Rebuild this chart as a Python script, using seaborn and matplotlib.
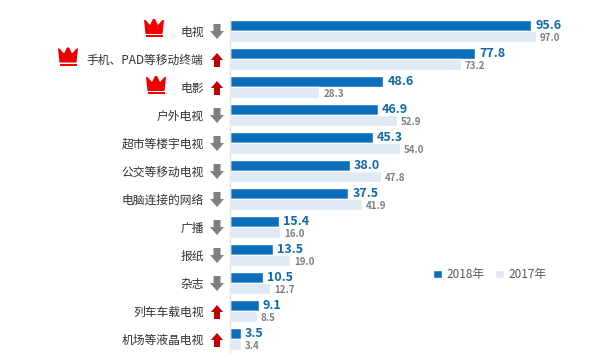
import pandas as pd
import matplotlib
matplotlib.use("Agg")
import matplotlib.pyplot as plt
from matplotlib.patches import Polygon
import seaborn as sns

# Data
categories = ["电视", "手机、PAD等移动终端", "电影", "户外电视", "超市等楼宇电视", "公交等移动电视",
              "电脑连接的网络", "广播", "报纸", "杂志", "列车车载电视", "机场等液晶电视"]
values_2018 = [95.6, 77.8, 48.6, 46.9, 45.3, 38.0, 37.5, 15.4, 13.5, 10.5, 9.1, 3.5]
values_2017 = [97.0, 73.2, 28.3, 52.9, 54.0, 47.8, 41.9, 16.0, 19.0, 12.7, 8.5, 3.4]
trends = ["down", "up", "up", "down", "down", "down", "down", "down", "down", "down", "up", "up"]
crown_rows = [0, 1, 2]
crown_x = [154, 68, 156]

BLUE = "#0a6ebd"
LIGHT = "#dfe8f5"
W, H = 600, 363

sns.set_theme(style="white")
plt.rcParams["font.family"] = ["Noto Sans CJK SC", "DejaVu Sans"]

df = pd.DataFrame({"category": categories * 2,
                   "value": values_2018 + values_2017,
                   "year": ["2018年"] * len(categories) + ["2017年"] * len(categories)})

fig = plt.figure(figsize=(6, 3.63), dpi=100)
ax = fig.add_axes([230 / W, 1 - 353 / H, 345 / W, 336 / H])
sns.barplot(data=df, y="category", x="value", hue="year", order=categories,
            hue_order=["2018年", "2017年"], palette=[BLUE, LIGHT], width=0.78, gap=0,
            dodge=True, saturation=1, ax=ax)

ax.set_xlim(0, 345 / 3.15)
ax.set_ylim(len(categories) - 0.5, -0.5)
ax.set_xlabel("")
ax.set_ylabel("")
ax.xaxis.set_visible(False)
sns.despine(ax=ax, left=False, bottom=True, right=True, top=True)
ax.spines["left"].set_color("#e6e6e6")
ax.spines["left"].set_linewidth(1)
ax.tick_params(axis="y", length=0, pad=19, labelsize=8.5, labelcolor="#333333")

# value labels
ax.bar_label(ax.containers[0], fmt="%.1f", padding=3, fontsize=9, fontweight="bold", color="#0f69a8")
grey_labels = ax.bar_label(ax.containers[1], fmt="%.1f", padding=3, fontsize=7, fontweight="bold", color="#7f7f7f")
for label in grey_labels:
    label.xyann = (3, -1)

ax.legend(loc="upper left", bbox_to_anchor=(433 / W, 1 - 268 / H), bbox_transform=fig.transFigure,
          ncols=2, frameon=False, fontsize=8.5, labelcolor="#595959", handlelength=0.75, handleheight=0.75,
          handletextpad=0.35, columnspacing=0.95, borderpad=0, borderaxespad=0)


def to_fig(points):
    return [(x / W, 1 - y / H) for x, y in points]


# trend arrows next to the category labels
for i, trend in enumerate(trends):
    cy = 31 + 28 * i
    cx = 217
    if trend == "down":
        pts = [(cx - 3.5, cy - 7), (cx + 3.5, cy - 7), (cx + 3.5, cy), (cx + 7, cy),
               (cx, cy + 8), (cx - 7, cy), (cx - 3.5, cy)]
        color = "#7f7f7f"
    else:
        pts = [(cx, cy - 6), (cx + 6, cy + 1), (cx + 3, cy + 1), (cx + 3, cy + 8),
               (cx - 3, cy + 8), (cx - 3, cy + 1), (cx - 6, cy + 1)]
        color = "#c00000"
    fig.add_artist(Polygon(to_fig(pts), closed=True, facecolor=color, edgecolor="none",
                           transform=fig.transFigure))

# crowns for the top three
for row, cx in zip(crown_rows, crown_x):
    cy = 28 + 28.5 * row
    crown = [(cx - 10, cy - 8), (cx - 8.5, cy - 8), (cx - 4, cy - 3), (cx - 1, cy - 9), (cx + 1, cy - 9),
             (cx + 4, cy - 3), (cx + 8.5, cy - 8), (cx + 10, cy - 8), (cx + 8.5, cy + 6), (cx - 8.5, cy + 6)]
    stripe = [(cx - 8.5, cy + 7), (cx + 8.5, cy + 7), (cx + 8.5, cy + 9), (cx - 8.5, cy + 9)]
    for pts in (crown, stripe):
        fig.add_artist(Polygon(to_fig(pts), closed=True, facecolor="#f00000", edgecolor="none",
                               transform=fig.transFigure))

fig.savefig("out.png", dpi=100)
